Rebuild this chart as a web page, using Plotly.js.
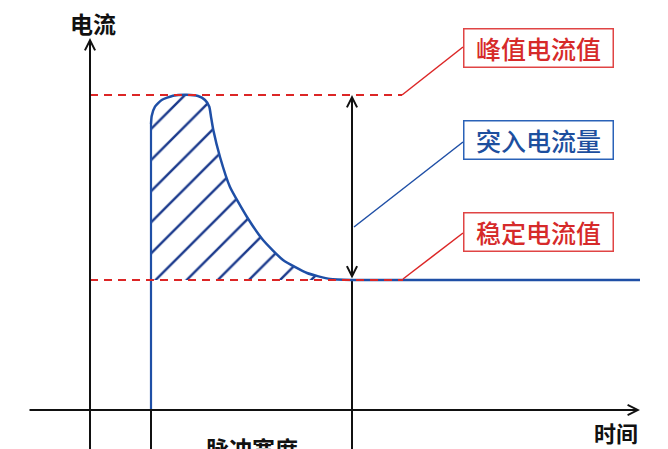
<!DOCTYPE html>
<html>
<head>
<meta charset="utf-8">
<script src="https://cdn.plot.ly/plotly-3.0.1.min.js"></script>
<style>html,body{margin:0;padding:0;background:#fff;}#chart{width:668px;height:449px;}</style>
</head>
<body>
<div id="chart"></div>
<script>
// ---- data (time / current, arbitrary schematic units) ----
const preTime = [0, 6.1, 6.1];
const preCurrent = [0, 0, 28.6];
const surgeTime = [6.1, 6.1, 6.17, 6.5, 7.17, 8.3, 9.67, 10.8, 11.5, 11.93, 12.1, 12.33, 13.0, 14.0, 15.7, 17.3, 19.3, 21.7, 24.0, 26.2];
const surgeCurrent = [13.0, 28.6, 29.4, 30.33, 31.0, 31.43, 31.53, 31.4, 31.0, 30.33, 29.33, 28.0, 25.3, 22.3, 19.3, 17.0, 15.0, 13.7, 13.1, 13.0];
const steadyTime = [26.2, 55.0];
const steadyCurrent = [13.0, 13.0];
const peakValue = 31.5;
const steadyValue = 13.0;
const pulseStart = 6.1;
const pulseEnd = 26.2;
const dashEnd = 31.2;
const axisLabels = ['电流', '时间', '脉冲宽度'];
const calloutLabels = ['峰值电流值', '突入电流量', '稳定电流值'];
const calloutCurrent = [36.2, 27.05, 17.8];
const calloutTime = 44.85;
const leaderFromTime = [31.2, 26.4, 31.3];
const leaderFromCurrent = [31.5, 18.3, 13.1];
const leaderToTime = 37.3;
const leaderToCurrent = [36.3, 26.8, 17.7];

const RED = '#dc2626';
const BLUE = '#1f4fa6';
const NAVY = '#1b3a8c';
const BLACK = '#111111';
const FONT = '"Noto Sans CJK SC", "Noto Sans", sans-serif';

const traces = [];
// hatched surge area
traces.push({x: surgeTime, y: surgeCurrent, mode: 'lines', fill: 'toself',
  line: {width: 0}, fillcolor: 'rgba(0,0,0,0)',
  fillpattern: {shape: '/', fgcolor: NAVY, bgcolor: 'rgba(0,0,0,0)', size: 22, solidity: 0.11},
  hoverinfo: 'skip'});
// black verticals below axis / pulse end
traces.push({x: [pulseStart, pulseStart], y: [0, -6], mode: 'lines', line: {color: BLACK, width: 2}, hoverinfo: 'skip'});
traces.push({x: [pulseEnd, pulseEnd], y: [steadyValue, -6], mode: 'lines', line: {color: BLACK, width: 2}, hoverinfo: 'skip'});
// blue current curve
traces.push({x: preTime, y: preCurrent, mode: 'lines', line: {color: BLUE, width: 2.2}, hoverinfo: 'skip'});
traces.push({x: surgeTime.slice(1), y: surgeCurrent.slice(1), mode: 'lines', line: {color: BLUE, width: 2.5, shape: 'spline', smoothing: 0.5}, hoverinfo: 'skip'});
traces.push({x: steadyTime, y: steadyCurrent, mode: 'lines', line: {color: BLUE, width: 2.5}, hoverinfo: 'skip'});
// red dashed reference lines
traces.push({x: [0, dashEnd], y: [peakValue, peakValue], mode: 'lines', line: {color: RED, width: 2, dash: '8px,6px'}, hoverinfo: 'skip'});
traces.push({x: [0, dashEnd + 0.1], y: [steadyValue, steadyValue], mode: 'lines', line: {color: RED, width: 2, dash: '8px,6px'}, hoverinfo: 'skip'});
// leader lines
const leaderColors = [RED, BLUE, RED];
for (let i = 0; i < 3; i++) {
  traces.push({x: [leaderFromTime[i], leaderToTime], y: [leaderFromCurrent[i], leaderToCurrent[i]], mode: 'lines',
    line: {color: leaderColors[i], width: 1.5}, hoverinfo: 'skip'});
}

const annotations = [];
// axes arrows
annotations.push({x: 0, y: 37.2, ax: 0, ay: -6, xref: 'x', yref: 'y', axref: 'x', ayref: 'y', text: '',
  showarrow: true, arrowhead: 5, arrowsize: 1, arrowwidth: 2, arrowcolor: BLACK});
annotations.push({x: 55.0, y: 0, ax: -6.2, ay: 0, xref: 'x', yref: 'y', axref: 'x', ayref: 'y', text: '',
  showarrow: true, arrowhead: 5, arrowsize: 1, arrowwidth: 2, arrowcolor: BLACK});
// double arrow
annotations.push({x: pulseEnd, y: peakValue, ax: pulseEnd, ay: steadyValue, xref: 'x', yref: 'y', axref: 'x', ayref: 'y', text: '',
  showarrow: true, arrowside: 'end+start', arrowhead: 5, startarrowhead: 5, arrowsize: 1, startarrowsize: 1, arrowwidth: 2, arrowcolor: BLACK});
// axis labels
annotations.push({x: 0.3, y: 38.7, xref: 'x', yref: 'y', text: axisLabels[0], showarrow: false,
  font: {family: FONT, size: 23, color: '#111', weight: 'bold'}});
annotations.push({x: 52.6, y: -2.2, xref: 'x', yref: 'y', text: axisLabels[1], showarrow: false,
  font: {family: FONT, size: 22, color: '#111', weight: 'bold'}});
annotations.push({x: (pulseStart + pulseEnd) / 2, y: -3.75, xref: 'x', yref: 'y', text: axisLabels[2], showarrow: false,
  font: {family: FONT, size: 23, color: '#111', weight: 'bold'}});
// callout boxes
const boxText = ['#d62a2a', '#1d4f9e', '#d62a2a'];
const boxBorder = ['#e04444', '#2a62b8', '#e04444'];
for (let i = 0; i < 3; i++) {
  annotations.push({x: calloutTime, y: calloutCurrent[i], xref: 'x', yref: 'y', text: calloutLabels[i], showarrow: false,
    width: 148, height: 37, borderpad: 0, borderwidth: 1.5, bordercolor: boxBorder[i], bgcolor: '#fff',
    xanchor: 'center', yanchor: 'middle', align: 'center', valign: 'middle',
    font: {family: FONT, size: 25, color: boxText[i], weight: 500}});
}

const layout = {
  width: 668, height: 449,
  margin: {l: 0, r: 0, t: 0, b: 0, pad: 0},
  paper_bgcolor: '#fff', plot_bgcolor: '#fff',
  showlegend: false,
  xaxis: {range: [-9.0, 57.8], visible: false, fixedrange: true},
  yaxis: {range: [-3.9, 41.0], visible: false, fixedrange: true},
  annotations: annotations
};

Plotly.newPlot('chart', traces, layout, {displayModeBar: false, staticPlot: true});
</script>
</body>
</html>
